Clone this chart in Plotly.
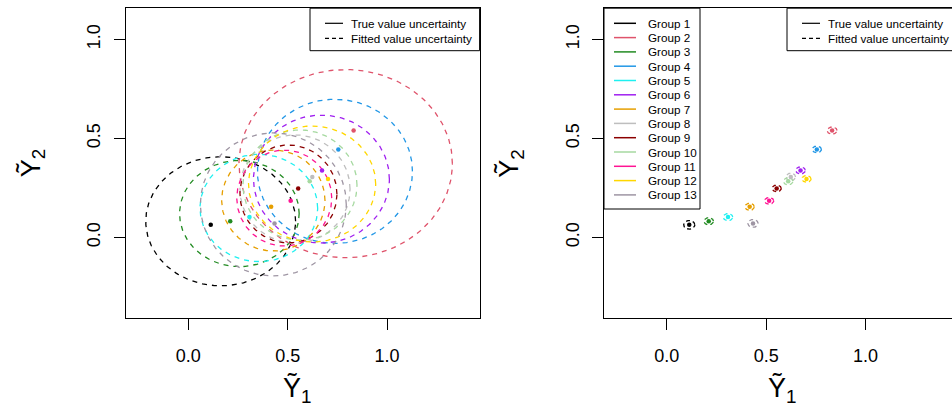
import numpy as np
import plotly.graph_objects as go

W, H = 952, 411

# ---------------- data ----------------
groups = [f"Group {i}" for i in range(1, 14)]
colors = ["#000000", "#DF536B", "#228B22", "#2297E6", "#1EF0F0", "#A020F0",
          "#E69F00", "#BEBEBE", "#8B0000", "#A6D9A0", "#FF1493", "#FFD700", "#9E95A3"]

# true values (points)
true_x = [0.113, 0.832, 0.211, 0.755, 0.308, 0.673, 0.417, 0.624, 0.553, 0.611, 0.515, 0.703, 0.434]
true_y = [0.064, 0.540, 0.082, 0.445, 0.103, 0.339, 0.155, 0.306, 0.248, 0.284, 0.185, 0.296, 0.071]

# fitted value uncertainty ellipses (left panel)
fit_cx = [0.163, 0.792, 0.257, 0.738, 0.355, 0.670, 0.428, 0.537, 0.504, 0.562, 0.483, 0.623, 0.428]
fit_cy = [0.082, 0.373, 0.121, 0.334, 0.149, 0.295, 0.187, 0.245, 0.220, 0.265, 0.199, 0.270, 0.167]
fit_rx = [0.377, 0.537, 0.301, 0.390, 0.296, 0.342, 0.260, 0.277, 0.244, 0.287, 0.239, 0.320, 0.367]
fit_ry = [0.326, 0.475, 0.268, 0.364, 0.271, 0.323, 0.255, 0.273, 0.247, 0.278, 0.242, 0.293, 0.361]

# small uncertainty ellipses (right panel)
small_rx = [0.028, 0.025, 0.024, 0.023, 0.024, 0.024, 0.023, 0.024, 0.023, 0.024, 0.023, 0.023, 0.026]
small_ry = [0.022, 0.018, 0.018, 0.017, 0.018, 0.018, 0.018, 0.019, 0.017, 0.018, 0.017, 0.017, 0.020]

tick_vals = [0.0, 0.5, 1.0]
tick_text = ["0.0", "0.5", "1.0"]
term_labels = ["True value uncertainty", "Fitted value uncertainty"]
x_title = "Ỹ<sub>1</sub>"
y_title = "Ỹ<sub>2</sub>"

# ---------------- geometry (pixels) ----------------
FONT = "Liberation Sans, Arial, Helvetica, sans-serif"
L_left, L_right = 125.5, 479.6
R_left = 604.0
P_top, P_bot = 8.2, 318.3
xr = [-0.316, 1.466]
yr = [-0.408, 1.158]
scale = (L_right - L_left) / (xr[1] - xr[0])
R_xmax = xr[0] + (W - R_left) / scale


def fx(p):
    return p / W


def fy(p):
    return 1 - p / H


fig = go.Figure()
t = np.linspace(0, 2 * np.pi, 240)

# left panel: fitted-value ellipses + points
for i in range(len(groups)):
    fig.add_trace(go.Scatter(
        x=fit_cx[i] + fit_rx[i] * np.cos(t), y=fit_cy[i] + fit_ry[i] * np.sin(t),
        mode="lines", line=dict(color=colors[i], width=1.3, dash="5px,5px"),
        xaxis="x", yaxis="y", hoverinfo="skip", showlegend=False))
fig.add_trace(go.Scatter(x=true_x, y=true_y, mode="markers",
                         marker=dict(color=colors, size=4.5),
                         xaxis="x", yaxis="y", showlegend=False))

# right panel: small ellipses + points
for i in range(len(groups)):
    fig.add_trace(go.Scatter(
        x=true_x[i] + small_rx[i] * np.cos(t), y=true_y[i] + small_ry[i] * np.sin(t),
        mode="lines", line=dict(color=colors[i], width=1.3, dash="4px,3px"),
        xaxis="x2", yaxis="y2", hoverinfo="skip", showlegend=False))
fig.add_trace(go.Scatter(x=true_x, y=true_y, mode="markers",
                         marker=dict(color=colors, size=4.5),
                         xaxis="x2", yaxis="y2", showlegend=False))

axis_common = dict(
    tickvals=tick_vals, ticktext=tick_text, ticks="outside", ticklen=11,
    tickwidth=1, tickcolor="black", showline=True, linecolor="black", linewidth=1,
    showgrid=False, zeroline=False, tickfont=dict(family=FONT, size=18, color="black"),
)

fig.update_layout(
    width=W, height=H, margin=dict(l=0, r=0, t=0, b=0),
    paper_bgcolor="white", plot_bgcolor="white", showlegend=False,
    xaxis=dict(domain=[fx(L_left), fx(L_right)], range=xr, mirror=True,
               anchor="y", ticklabelstandoff=10, **axis_common),
    yaxis=dict(domain=[fy(P_bot), fy(P_top)], range=yr, mirror=True,
               anchor="x", tickangle=-90, ticklabelstandoff=6, **axis_common),
    xaxis2=dict(domain=[fx(R_left), 1.0], range=[xr[0], R_xmax], mirror=True,
                anchor="y2", ticklabelstandoff=10, **axis_common),
    yaxis2=dict(domain=[fy(P_bot), fy(P_top)], range=yr, mirror=False,
                anchor="x2", tickangle=-90, ticklabelstandoff=6, **axis_common),
)

shapes = []
annots = []

# axis titles
for (xc, yc, txt, ang) in [(297, 389, x_title, 0),
                            (782, 389, x_title, 0),
                            (32, (P_top + P_bot) / 2, y_title, -90),
                            (32 + R_left - L_left, (P_top + P_bot) / 2, y_title, -90)]:
    annots.append(dict(x=fx(xc), y=fy(yc), xref="paper", yref="paper", text=txt,
                       showarrow=False, textangle=ang, xanchor="center", yanchor="middle",
                       font=dict(family=FONT, size=27, color="black")))

LEG_FONT = dict(family=FONT, size=11.7, color="black")


def term_legend(bx0, bx1):
    shapes.append(dict(type="rect", xref="paper", yref="paper",
                       x0=fx(bx0), x1=fx(bx1), y0=fy(P_top), y1=fy(50.7),
                       line=dict(color="black", width=1), fillcolor="white", layer="above"))
    for k, (lab, dash) in enumerate(zip(term_labels, ["solid", "4px,3px"])):
        yy = 23.3 + 15 * k
        shapes.append(dict(type="line", xref="paper", yref="paper",
                           x0=fx(bx0 + 15), x1=fx(bx0 + 33), y0=fy(yy), y1=fy(yy),
                           line=dict(color="black", width=1.2, dash=dash), layer="above"))
        annots.append(dict(x=fx(bx0 + 39), y=fy(yy), xref="paper", yref="paper", text=lab,
                           showarrow=False, xanchor="left", yanchor="middle", font=LEG_FONT))


term_legend(310, L_right)
term_legend(787, 957)

# group legend (right panel)
shapes.append(dict(type="rect", xref="paper", yref="paper",
                   x0=fx(R_left), x1=fx(700), y0=fy(P_top), y1=fy(209),
                   line=dict(color="black", width=1), fillcolor="white", layer="above"))
for k, g in enumerate(groups):
    yy = 23.3 + 14.3 * k
    shapes.append(dict(type="line", xref="paper", yref="paper",
                       x0=fx(614), x1=fx(636), y0=fy(yy), y1=fy(yy),
                       line=dict(color=colors[k], width=1.5), layer="above"))
    annots.append(dict(x=fx(646), y=fy(yy), xref="paper", yref="paper", text=g,
                       showarrow=False, xanchor="left", yanchor="middle", font=LEG_FONT))

fig.update_layout(shapes=shapes, annotations=annots)
fig.write_html("out.html")
